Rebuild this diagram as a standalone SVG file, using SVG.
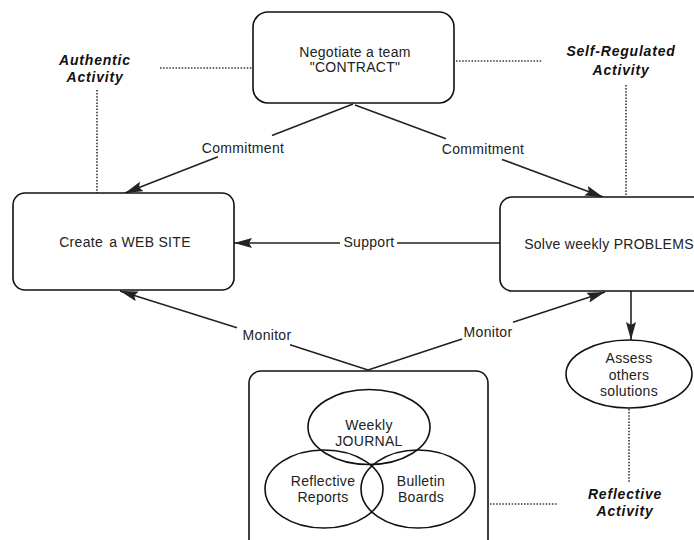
<svg xmlns="http://www.w3.org/2000/svg" width="694" height="540" viewBox="0 0 694 540">
<defs>
<marker id="arr" markerUnits="userSpaceOnUse" markerWidth="20" markerHeight="12" refX="18" refY="5" orient="auto">
<path d="M0,0 L18,5 L0,10 L3,5 z" fill="#222"/>
</marker>
<style>
.box{fill:#fff;stroke:#111;stroke-width:1.6}
.ell{fill:none;stroke:#111;stroke-width:1.6}
.ln{fill:none;stroke:#222;stroke-width:1.6}
.dot{fill:none;stroke:#333;stroke-width:1.6;stroke-dasharray:1.5 1.6}
.t{font-family:"Liberation Sans",Arial,sans-serif;font-size:14px;letter-spacing:0.3px;fill:#222;text-anchor:middle}
.b{font-family:"Liberation Sans",Arial,sans-serif;font-size:14px;font-weight:bold;font-style:italic;letter-spacing:0.8px;fill:#111;text-anchor:middle}
</style>
</defs>
<rect width="694" height="540" fill="#fff"/>
<g id="connectors">
<line class="ln" x1="353" y1="104" x2="272" y2="135.6"/>
<line class="ln" x1="218" y1="156.7" x2="125" y2="193" marker-end="url(#arr)"/>
<line class="ln" x1="355" y1="105" x2="446" y2="138.8"/>
<line class="ln" x1="502" y1="159.5" x2="603" y2="197" marker-end="url(#arr)"/>
<line class="ln" x1="500" y1="243" x2="397" y2="243"/>
<line class="ln" x1="340" y1="243" x2="234" y2="243" marker-end="url(#arr)"/>
<line class="ln" x1="368" y1="370" x2="290" y2="344.8"/>
<line class="ln" x1="237" y1="327.7" x2="120" y2="291" marker-end="url(#arr)"/>
<line class="ln" x1="368" y1="370" x2="462" y2="339"/>
<line class="ln" x1="513" y1="322.3" x2="605" y2="292" marker-end="url(#arr)"/>
<line class="ln" x1="631" y1="291" x2="631" y2="340" marker-end="url(#arr)"/>
<line class="dot" x1="160" y1="68" x2="253" y2="68"/>
<line class="dot" x1="97" y1="90" x2="97" y2="193"/>
<line class="dot" x1="456" y1="61" x2="542" y2="61"/>
<line class="dot" x1="626" y1="85" x2="626" y2="196"/>
<line class="dot" x1="629" y1="409" x2="629" y2="483"/>
<line class="dot" x1="490" y1="504" x2="557" y2="504"/>
<text class="t" x="243" y="153">Commitment</text>
<text class="t" x="483" y="154">Commitment</text>
<text class="t" x="369" y="247">Support</text>
<text class="t" x="267" y="340">Monitor</text>
<text class="t" x="488" y="337">Monitor</text>
</g>
<g id="contract">
<rect class="box" x="253" y="12" width="201" height="91" rx="15"/>
<text class="t" x="355" y="57">Negotiate a team</text>
<text class="t" x="355" y="72">"CONTRACT"</text>
</g>
<g id="website">
<rect class="box" x="13" y="193" width="221" height="97" rx="12"/>
<text class="t" x="125" y="247">Create <tspan dx="2">a WEB SITE</tspan></text>
</g>
<g id="problems">
<rect class="box" x="500" y="197" width="230" height="94" rx="12"/>
<text class="t" x="609" y="249">Solve weekly PROBLEMS</text>
</g>
<g id="assess">
<ellipse class="box" cx="629" cy="374" rx="63" ry="34"/>
<text class="t" x="629" y="363">Assess</text>
<text class="t" x="629" y="380">others</text>
<text class="t" x="629" y="396">solutions</text>
</g>
<g id="reflection-tools">
<rect class="box" x="249" y="371" width="239" height="185" rx="12"/>
<ellipse class="ell" cx="369" cy="427" rx="61" ry="37.5"/>
<ellipse class="ell" cx="324" cy="489" rx="59" ry="39"/>
<ellipse class="ell" cx="418" cy="489" rx="57" ry="39"/>
<text class="t" x="369" y="430">Weekly</text>
<text class="t" x="369" y="446">JOURNAL</text>
<text class="t" x="323" y="486">Reflective</text>
<text class="t" x="323" y="502">Reports</text>
<text class="t" x="421" y="486">Bulletin</text>
<text class="t" x="421" y="502">Boards</text>
</g>
<g id="authentic">
<text class="b" x="95" y="65">Authentic</text>
<text class="b" x="95" y="82">Activity</text>
</g>
<g id="self-regulated">
<text class="b" x="621" y="56">Self-Regulated</text>
<text class="b" x="621" y="75">Activity</text>
</g>
<g id="reflective">
<text class="b" x="625" y="499">Reflective</text>
<text class="b" x="625" y="516">Activity</text>
</g>
</svg>
